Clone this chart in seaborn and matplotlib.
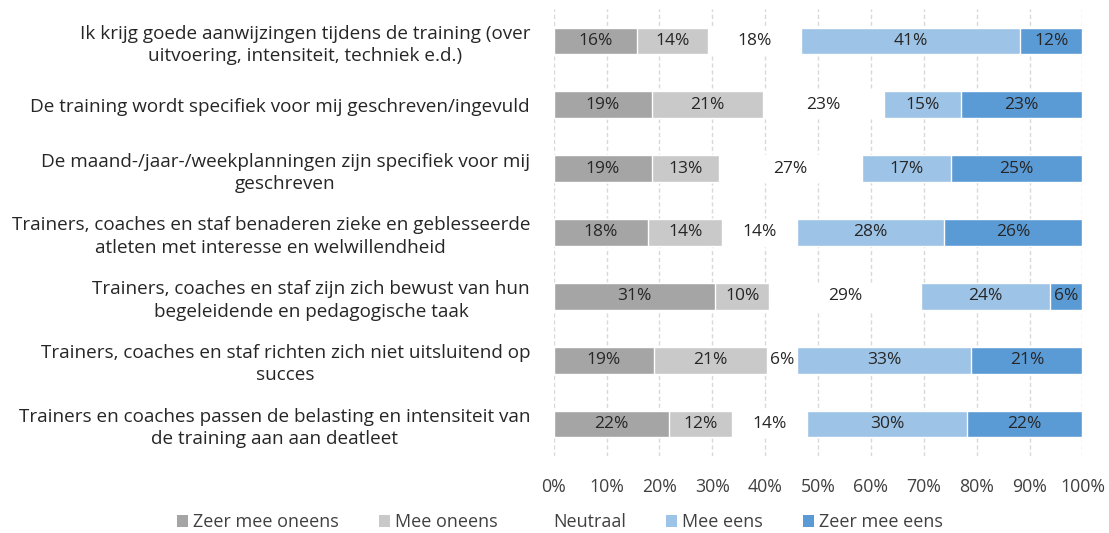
import numpy as np
import pandas as pd
import seaborn as sns
import matplotlib.pyplot as plt
from matplotlib.patches import Patch

categories = [
    "Ik krijg goede aanwijzingen tijdens de training (over\nuitvoering, intensiteit, techniek e.d.)",
    "De training wordt specifiek voor mij geschreven/ingevuld",
    "De maand-/jaar-/weekplanningen zijn specifiek voor mij\ngeschreven",
    "Trainers, coaches en staf benaderen zieke en geblesseerde\natleten met interesse en welwillendheid",
    "Trainers, coaches en staf zijn zich bewust van hun\nbegeleidende en pedagogische taak",
    "Trainers, coaches en staf richten zich niet uitsluitend op\nsucces",
    "Trainers en coaches passen de belasting en intensiteit van\nde training aan aan deatleet",
]
series = ["Zeer mee oneens", "Mee oneens", "Neutraal", "Mee eens", "Zeer mee eens"]
zeer_oneens = [15.7, 18.6, 18.6, 17.9, 30.6, 19.0, 21.9]
oneens = [13.5, 20.9, 12.6, 14.0, 10.1, 21.4, 11.9]
neutraal = [17.6, 22.9, 27.1, 14.1, 28.7, 5.7, 14.2]
eens = [41.4, 14.6, 16.8, 27.8, 24.4, 32.9, 30.1]
zeer_eens = [11.8, 23.0, 24.9, 26.2, 6.2, 21.0, 21.9]
colors = ["#a5a5a5", "#c9c9c9", "#ffffff", "#9dc3e6", "#5b9bd5"]

sns.set_theme(style="white")
plt.rcParams["font.family"] = ["Open Sans", "DejaVu Sans"]

vals = np.array([zeer_oneens, oneens, neutraal, eens, zeer_eens])
cum = vals.cumsum(axis=0)

fig = plt.figure(figsize=(11.09, 5.33), dpi=100)
ax = fig.add_axes([0.4992, 0.1445, 0.4769, 0.8386])

# stacked bars by drawing cumulative totals from the right end backwards
for k in range(len(series) - 1, -1, -1):
    df = pd.DataFrame({"cat": categories, "val": cum[k]})
    sns.barplot(data=df, x="val", y="cat", color=colors[k], saturation=1,
                width=0.42, orient="h", ax=ax, zorder=2)

for k in range(len(series)):
    for i in range(len(categories)):
        ax.text(cum[k][i] - vals[k][i] / 2, i, f"{vals[k][i]:.0f}%",
                ha="center", va="center", fontsize=12.5, color="#262626", zorder=3)

ax.set_xlim(0, 100)
ax.set_ylim(len(categories) - 0.5, -0.5)
ax.set_xticks(np.arange(0, 101, 10))
ax.set_xticklabels([f"{t}%" for t in range(0, 101, 10)], fontsize=12.8, color="#404040")
ax.tick_params(axis="x", pad=16, length=0)
ax.tick_params(axis="y", pad=17, length=0, labelsize=13.6, labelcolor="#262626")
for t in ax.get_yticklabels():
    t.set_multialignment("center")
    t.set_linespacing(1.3)
ax.set_xlabel("")
ax.set_ylabel("")
ax.xaxis.grid(True, color="#d9d9d9", linestyle=(0, (3, 2)), linewidth=1, zorder=0)
ax.set_axisbelow(True)
for s in ax.spines.values():
    s.set_visible(False)

handles = [Patch(facecolor=c, edgecolor="none") for c in colors]
fig.legend(handles, series, loc="center", bbox_to_anchor=(0.505, 0.02), ncol=5,
           frameon=False, fontsize=13, handlelength=0.6, handleheight=0.6,
           handletextpad=0.3, columnspacing=2.2, labelcolor="#404040")

fig.savefig("out.png", dpi=100)
